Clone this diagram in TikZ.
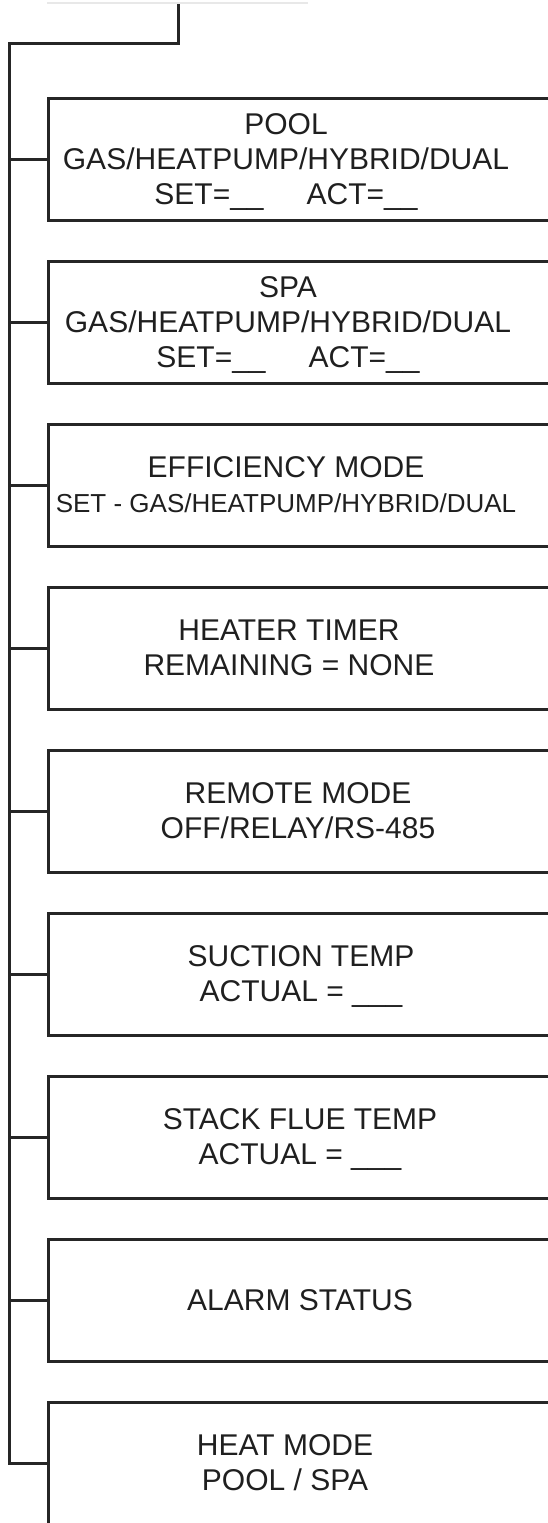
\documentclass[tikz,border=0pt]{standalone}
\usepackage{fontspec}
\setmainfont{Liberation Sans}
\usetikzlibrary{positioning}

\begin{document}
\begin{tikzpicture}[x=1pt, y=1pt,
  menu/.style={draw=black!85, line width=3pt, minimum width=512pt,
               minimum height=122pt, inner sep=0pt, outer sep=0pt},
  rotulo/.style={align=center, inner sep=0pt, text=black!88, text depth=0pt,
                 font=\fontsize{30}{35}\selectfont},
  liga/.style={draw=black!85, line width=3pt}]
\useasboundingbox (0,0) rectangle (548,-1523);
\draw[black!9, line width=1.2pt] (47,-3) -- (308,-3);
\coordinate (topo) at (178,-4);
\coordinate (tronco) at (9,-43);
\node[menu] (pool) at (304,-159) {};
\node[menu, below=41pt of pool] (spa) {};
\node[menu, below=41pt of spa] (efic) {};
\node[menu, below=41pt of efic] (timer) {};
\node[menu, below=41pt of timer] (remote) {};
\node[menu, below=41pt of remote] (suct) {};
\node[menu, below=41pt of suct] (stack) {};
\node[menu, below=41pt of stack] (alarm) {};
\node[menu, below=41pt of alarm] (heat) {};
\node[rotulo] (pooltxt) at ([xshift=-18pt]pool.center)
  {POOL\\GAS/HEATPUMP/HYBRID/DUAL\\SET=\_\_\hspace{43pt}ACT=\_\_};
\node[rotulo] (spatxt) at ([xshift=-16pt]spa.center)
  {SPA\\GAS/HEATPUMP/HYBRID/DUAL\\SET=\_\_\hspace{43pt}ACT=\_\_};
\node[rotulo] (efictxt) at ([xshift=-18pt]efic.center)
  {EFFICIENCY MODE\\{\fontsize{26}{34}\selectfont SET - GAS/HEATPUMP/HYBRID/DUAL}};
\node[rotulo] (timertxt) at ([xshift=-15pt]timer.center)
  {HEATER TIMER\\REMAINING = NONE};
\node[rotulo] (remotetxt) at ([xshift=-6pt]remote.center)
  {REMOTE MODE\\OFF/RELAY/RS-485};
\node[rotulo] (sucttxt) at ([xshift=-3pt]suct.center)
  {SUCTION TEMP\\ACTUAL = \_\_\_};
\node[rotulo] (stacktxt) at ([xshift=-4pt]stack.center)
  {STACK FLUE TEMP\\ACTUAL = \_\_\_};
\node[rotulo] (alarmtxt) at ([xshift=-4pt]alarm.center) {ALARM STATUS};
\node[rotulo] (heattxt) at ([xshift=-19pt]heat.center)
  {HEAT MODE\\POOL / SPA};
\draw[liga] (topo) |- (tronco) -- (tronco |- heat.west) -- (heat.west);
\draw[liga] (pool.west -| tronco) -- (pool.west);
\draw[liga] (spa.west -| tronco) -- (spa.west);
\draw[liga] (efic.west -| tronco) -- (efic.west);
\draw[liga] (timer.west -| tronco) -- (timer.west);
\draw[liga] (remote.west -| tronco) -- (remote.west);
\draw[liga] (suct.west -| tronco) -- (suct.west);
\draw[liga] (stack.west -| tronco) -- (stack.west);
\draw[liga] (alarm.west -| tronco) -- (alarm.west);
\end{tikzpicture}
\end{document}
